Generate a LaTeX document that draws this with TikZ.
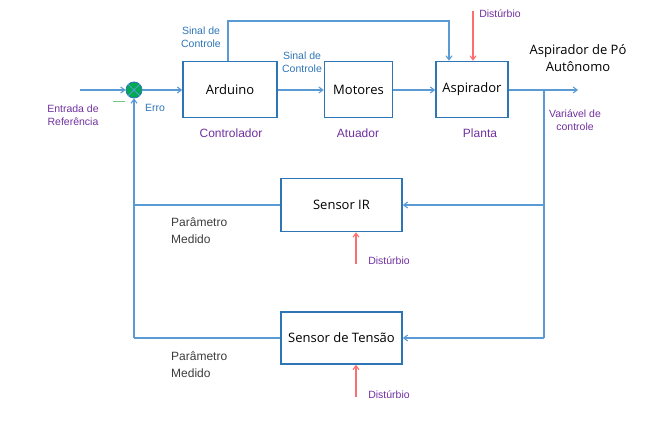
\documentclass[tikz,border=0pt]{standalone}
\usepackage{fontspec}
\setmainfont{Liberation Sans}
\newfontfamily\boxfont{Open Sans}
\usetikzlibrary{arrows.meta}
\definecolor{linec}{RGB}{91,155,213}
\definecolor{boxc}{RGB}{46,117,182}
\definecolor{lblue}{RGB}{46,117,182}
\definecolor{lpurp}{RGB}{112,48,160}
\definecolor{lred}{RGB}{255,110,110}
\definecolor{sumg}{RGB}{0,170,80}
\definecolor{lgreen}{RGB}{110,200,130}
\definecolor{dgray}{RGB}{60,60,60}
\begin{document}
\begin{tikzpicture}[x=1pt,y=-1pt,
  blk/.style={draw=boxc,line width=1.6pt,minimum height=56pt,inner sep=0pt,font=\boxfont\fontsize{13}{15}\selectfont},
  conn/.style={draw=linec,line width=1.1pt,-{Straight Barb[length=4pt,width=6pt]}},
  plain/.style={draw=linec,line width=1.1pt},
  dist/.style={draw=lred,line width=1.1pt,-{Straight Barb[length=4pt,width=6pt]}},
  bl/.style={text=lblue,font=\fontsize{10.5}{13}\selectfont,align=center,inner sep=0pt},
  pl/.style={text=lpurp,font=\fontsize{10.5}{13}\selectfont,align=center,inner sep=0pt},
  pu/.style={text=lpurp,font=\fontsize{12}{14}\selectfont,inner sep=0pt},
  gr/.style={text=dgray,font=\fontsize{12}{16.5}\selectfont,align=left,inner sep=0pt},
  bk/.style={text=black,font=\boxfont\fontsize{13}{17.5}\selectfont,align=center,inner sep=0pt}]
\useasboundingbox (0,0) rectangle (646,425);
% blocks
\node[blk,minimum width=94pt] (ard) at (230,89.5) {Arduino};
\node[blk,minimum width=68pt] (mot) at (358.5,89.5) {Motores};
\node[blk,minimum width=72pt] (asp) at (472,89.5) {Aspirador};
\node[blk,minimum width=121pt,minimum height=53pt] (ir) at (341.5,205) {Sensor IR};
\node[blk,minimum width=121pt,minimum height=52pt] (ten) at (341.5,338) {Sensor de Tensão};
% summing junction
\node[circle,draw=boxc,fill=sumg,line width=0.8pt,minimum size=16pt,inner sep=0pt] (sum) at (134,90) {};
\draw[linec,line width=1pt] (sum.north west) -- (sum.south east) (sum.north east) -- (sum.south west);
\draw[lgreen,line width=1pt] (113,101.5) -- (125,101.5);
% coordinates
\coordinate (in) at (80,90);
\coordinate (out) at (578,90);
\coordinate (tp1) at (228,21);
\coordinate (tp2) at (449,21);
\coordinate (br) at (544,90);
\coordinate (rIR) at (544,205);
\coordinate (rT) at (544,338);
\coordinate (lIR) at (134,205);
\coordinate (lT) at (134,338);
\coordinate (d1) at (473,11);
\coordinate (d2) at (356,264);
\coordinate (d3) at (356,397);
% connectors
\draw[conn] (in) -- (sum.west);
\draw[conn] (sum.east) -- (ard.west |- sum.east);
\draw[conn] (ard.east |- sum.east) -- (mot.west |- sum.east);
\draw[conn] (mot.east |- sum.east) -- (asp.west |- sum.east);
\draw[conn] (asp.east |- sum.east) -- (out);
\draw[conn] (ard.north -| tp1) -- (tp1) -- (tp2) -- (asp.north -| tp2);
\draw[plain] (br) -- (rT);
\draw[conn] (rIR) -- (ir.east);
\draw[conn] (rT) -- (ten.east);
\draw[plain] (ir.west) -- (lIR);
\draw[plain] (ten.west) -- (lT);
\draw[conn] (lT) -- (sum.south);
\draw[dist] (d1) -- (asp.north -| d1);
\draw[dist] (d2) -- (ir.south -| d2);
\draw[dist] (d3) -- (ten.south -| d3);
% labels
\node[pl] (l1) at (73,115) {Entrada de\\Referência};
\node[bl] (l2) at (155,108) {Erro};
\node[bl] (l3) at (201,37.5) {Sinal de\\Controle};
\node[bl] (l4) at (302,62.5) {Sinal de\\Controle};
\node[pu] (l5) at (231,133) {Controlador};
\node[pu] (l6) at (358,133) {Atuador};
\node[pu] (l7) at (480,133) {Planta};
\node[pl] (l8) at (575,120) {Variável de\\controle};
\node[pl] (l9) at (500,14) {Distúrbio};
\node[pl] (l10) at (389,261) {Distúrbio};
\node[pl] (l11) at (389,395) {Distúrbio};
\node[bk] (l12) at (578,58) {Aspirador de Pó\\Autônomo};
\node[gr,anchor=west] (l13) at (171,230.5) {Parâmetro\\Medido};
\node[gr,anchor=west] (l14) at (171,364.5) {Parâmetro\\Medido};
\end{tikzpicture}
\end{document}
